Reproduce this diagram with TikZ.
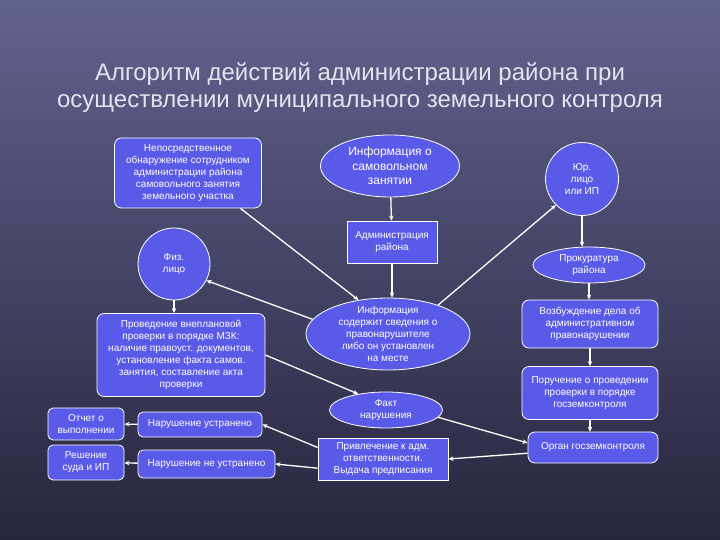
\documentclass[tikz,border=0pt]{standalone}
\usepackage{fontspec}
\setmainfont{Liberation Sans}
\usetikzlibrary{shapes.geometric, arrows.meta, positioning}
\definecolor{bgtop}{RGB}{98,98,142}
\definecolor{bgbot}{RGB}{38,38,62}
\definecolor{boxfill}{RGB}{90,90,232}
\definecolor{titlecol}{RGB}{228,228,240}

\begin{document}
\begin{tikzpicture}[x=1pt, y=-1pt,
            box/.style   ={rectangle, rounded corners=7pt, draw=white, thick, fill=boxfill,
                           text=white, align=center, inner sep=2pt,
                           font=\fontsize{10}{12}\selectfont},
            sqbox/.style ={box, sharp corners},
            oval/.style  ={ellipse, draw=white, thick, fill=boxfill, text=white,
                           align=center, inner sep=-20pt, font=\fontsize{10}{12}\selectfont},
            round/.style ={circle, draw=white, thick, fill=boxfill, text=white,
                           align=center, inner sep=-20pt, font=\fontsize{10}{12}\selectfont},
            arr/.style   ={-{Stealth[length=5pt, width=4.5pt]}, white, line width=1.3pt}
        ]
            \fill[top color=bgtop, bottom color=bgbot] (0,0) rectangle (720,540);
            \useasboundingbox (0,0) rectangle (720,540);

            \node[font=\fontsize{24}{27}\selectfont, text=titlecol, align=center] (title) at (360,88)
                  {Алгоритм действий администрации района при\\осуществлении муниципального земельного контроля};

            % top row
            \node[box,  minimum width=147, minimum height=70] (direct) at (188,173)
                  {Непосредственное\\обнаружение сотрудником\\администрации района\\самовольного занятия\\земельного участка};
            \node[oval, minimum width=139, minimum height=62, font=\fontsize{12}{14.5}\selectfont] (info1) at (390,166)
                  {Информация о\\самовольном\\занятии};
            \node[round, minimum size=73] (yur) at (582,179) {Юр.\\лицо\\или ИП};

            % middle
            \node[sqbox, minimum width=90, minimum height=42] (admin) at (392,242) {Администрация\\района};
            \node[round, minimum size=72] (fiz)  at (174,264) {Физ.\\лицо};
            \node[oval, minimum width=112, minimum height=36] (prok) at (589,265) {Прокуратура\\района};
            \node[box,  minimum width=168, minimum height=83] (check) at (181,355)
                  {Проведение внеплановой\\проверки в порядке МЗК:\\наличие правоуст. документов,\\установление факта самов.\\занятия, составление акта\\проверки};
            \node[oval, minimum width=164, minimum height=72] (info2) at (388,334)
                  {Информация\\содержит сведения о\\правонарушителе\\либо он установлен\\на месте};
            \node[box,  minimum width=136, minimum height=48] (vozb) at (590,324)
                  {Возбуждение дела об\\административном\\правонарушении};
            \node[box,  minimum width=136, minimum height=53] (poruch) at (590,393)
                  {Поручение о проведении\\проверки в порядке\\госземконтроля};

            % bottom
            \node[oval, minimum width=113, minimum height=36] (fact) at (386,410) {Факт\\нарушения};
            \node[box, rounded corners=5pt, minimum width=76,  minimum height=32] (report)   at (86,424)    {Отчет о\\выполнении};
            \node[box, rounded corners=5pt, minimum width=124, minimum height=25] (fixed)    at (200,424.5) {Нарушение устранено};
            \node[box, rounded corners=5pt, minimum width=76,  minimum height=35] (court)    at (86,462.5)  {Решение\\суда и ИП};
            \node[box, rounded corners=5pt, minimum width=137, minimum height=28] (notfixed) at (206.5,464) {Нарушение не устранено};
            \node[sqbox, minimum width=130, minimum height=42] (attract) at (383,459)
                  {Привлечение к адм.\\ответственности.\\Выдача предписания};
            \node[box,  minimum width=130, minimum height=31] (organ) at (593,447.5) {Орган госземконтроля};

            \draw[arr] (info1) -- (admin);
            \draw[arr] (admin) -- (admin |- info2.north);
            \draw[arr] (direct.-34) -- (info2.131);
            \draw[arr] (info2.30)   -- (yur.225);
            \draw[arr] (info2.169)  -- (fiz.-27);
            \draw[arr] (fiz)        -- (fiz |- check.north);
            \draw[arr] (check.east) -- (fact.150);

            \draw[arr] (yur)    -- (yur |- prok.north);
            \draw[arr] (prok)   -- (prok |- vozb.north);
            \draw[arr] (vozb)   -- (vozb |- poruch.north);
            \draw[arr] (poruch) -- (poruch |- organ.north);

            \draw[arr] (fact.-8)     -- (organ.176);
            \draw[arr] (organ.185)   -- (attract.east);
            \draw[arr] (attract.170) -- (fixed.east);
            \draw[arr] (attract.188) -- (notfixed.east);
            \draw[arr] (fixed)       -- (report);
            \draw[arr] (notfixed)    -- (court);

        \end{tikzpicture}
\end{document}
